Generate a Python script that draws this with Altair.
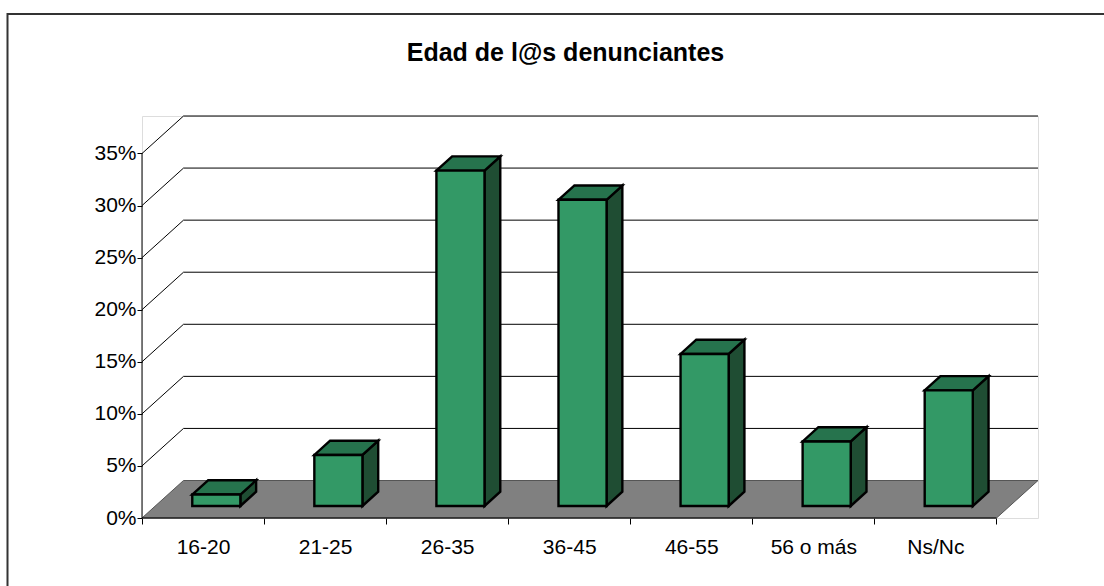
import json
import altair as alt
import pandas as pd

# Age groups and share of complainants (%)
categories = ["16-20", "21-25", "26-35", "36-45", "46-55", "56 o más", "Ns/Nc"]
values = [1.1, 4.9, 32.2, 29.4, 14.6, 6.2, 11.1]
tick_values = [0, 5, 10, 15, 20, 25, 30, 35]
title_text = "Edad de l@s denunciantes"

# Oblique projection: one unit of depth shifts this far in x (category units) and y (percent units)
DX = 0.34
DY = 3.6
D0, D1 = 0.32, 0.70      # front and back depth of each bar
HALF_W = 0.197            # half bar width, category units
N = len(categories)
Y_MAX = tick_values[-1]

FRONT = "#339966"
TOP = "#26734D"
SIDE = "#1F4D33"
FLOOR = "#808080"
FONT = "Liberation Sans"

xs = alt.Scale(domain=[0, N + DX], nice=False, zero=False)
ys = alt.Scale(domain=[0, Y_MAX + DY], nice=False, zero=False)

label_expr = "datum.value < %d ? %s[datum.value] : ''" % (N, json.dumps(categories))
x_axis = alt.Axis(values=list(range(N + 1)), labelExpr=label_expr, labelOffset=61,
                  tickSize=6, tickColor="black", domain=False, grid=False, title=None,
                  labelFont=FONT, labelFontSize=21, labelColor="black", labelPadding=12,
                  labelOverlap=False, labelFlush=False, labelBound=False)
y_axis = alt.Axis(values=tick_values, labelExpr="datum.value + '%'", tickSize=5,
                  tickColor="black", domain=False, grid=False, title=None,
                  labelFont=FONT, labelFontSize=21, labelColor="black", labelPadding=1)


def X(field):
    return alt.X(field, type="quantitative", scale=xs, axis=x_axis)


def Y(field):
    return alt.Y(field, type="quantitative", scale=ys, axis=y_axis)


# Floor of the 3D box
floor_df = pd.DataFrame({"y": [0, DY], "x": [0, DX], "x2": [N, N + DX]})
floor = alt.Chart(floor_df).mark_area(orient="horizontal", fill=FLOOR,
                                      stroke="#555555", strokeWidth=1).encode(
    y=Y("y"), x=X("x"), x2=alt.X2("x2"))

# Gridlines on the back wall and diagonal lines on the left side wall (above the floor)
grid_df = pd.DataFrame({"v": tick_values[1:]})
grid_df["vb"] = grid_df["v"] + DY
grid_df["x0"] = 0.0
grid_df["xb"] = DX
grid_df["xe"] = N + DX
back_grid = alt.Chart(grid_df).mark_rule(color="black", strokeWidth=1).encode(
    x=X("xb"), x2="xe", y=Y("vb"))
side_grid = alt.Chart(grid_df).mark_rule(color="black", strokeWidth=1).encode(
    x=X("x0"), x2="xb", y=Y("v"), y2="vb")

# Front axis lines: vertical value axis and the front edge of the floor
axis_df = pd.DataFrame({"x0": [0.0], "x1": [float(N)], "y0": [0.0], "y1": [float(Y_MAX)]})
v_axis_line = alt.Chart(axis_df).mark_rule(color="black", strokeWidth=1).encode(
    x=X("x0"), y=Y("y0"), y2="y1")
h_axis_line = alt.Chart(axis_df).mark_rule(color="black", strokeWidth=1).encode(
    x=X("x0"), x2="x1", y=Y("y0"))

# Bar faces: front rectangle, slanted top and right side parallelograms
bar_style = dict(stroke="black", strokeWidth=2.4, strokeJoin="miter")
bar_layers = []
front_rows = []
for i, (c, v) in enumerate(zip(categories, values)):
    xl = i + 0.5 - HALF_W
    xr = i + 0.5 + HALF_W
    front_rows.append({"cat": c, "x": xl + D0 * DX, "x2": xr + D0 * DX,
                       "y": D0 * DY, "y2": v + D0 * DY})
    top_df = pd.DataFrame([{"y": v + d * DY, "x": xl + d * DX, "x2": xr + d * DX}
                           for d in (D0, D1)])
    side_df = pd.DataFrame([{"x": xr + d * DX, "y": d * DY, "y2": v + d * DY}
                            for d in (D0, D1)])
    bar_layers.append(alt.Chart(side_df).mark_area(orient="vertical", fill=SIDE,
                                                   **bar_style).encode(
        x=X("x"), y=Y("y"), y2=alt.Y2("y2")))
    bar_layers.append(alt.Chart(top_df).mark_area(orient="horizontal", fill=TOP,
                                                  **bar_style).encode(
        y=Y("y"), x=X("x"), x2=alt.X2("x2")))

fronts = alt.Chart(pd.DataFrame(front_rows)).mark_rect(fill=FRONT, **bar_style).encode(
    x=X("x"), x2="x2", y=Y("y"), y2="y2")

# Chart title and outer frame
title = alt.Chart(alt.Data(values=[{"t": title_text}])).mark_text(
    font=FONT, fontSize=25, fontWeight="bold", color="black",
    align="center", baseline="alphabetic").encode(
    text="t:N", x=alt.value(423.5), y=alt.value(-55.3))
frame = alt.Chart(alt.Data(values=[{}])).mark_rect(
    filled=False, stroke="#333333", strokeWidth=2).encode(
    x=alt.value(-134.5), x2=alt.value(990), y=alt.value(-102), y2=alt.value(500))

chart = alt.layer(frame, title, floor, back_grid, side_grid, v_axis_line, h_axis_line,
                  *bar_layers, fronts).properties(
    width=896, height=402,
    autosize=alt.AutoSizeParams(type="none"),
    padding={"left": 142, "top": 116, "right": 66, "bottom": 68},
).configure_view(stroke=None).configure(background="white")

chart.save("out.html", embed_options={"renderer": "svg", "actions": False})
